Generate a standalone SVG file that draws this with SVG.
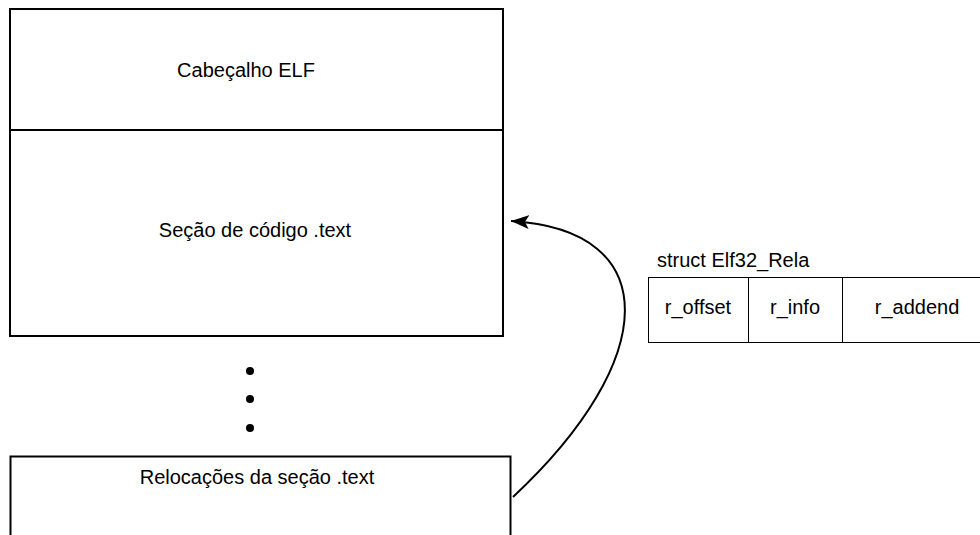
<svg xmlns="http://www.w3.org/2000/svg" width="980" height="535" viewBox="0 0 980 535">
<style>
text{font-family:"Liberation Sans",Arial,sans-serif;font-size:20px;fill:#000}
.box{fill:#fff;stroke:#000;stroke-width:2}
.thin{fill:#fff;stroke:#000;stroke-width:1}
.mid{text-anchor:middle}
</style>
<defs>
<marker id="ah" markerWidth="20" markerHeight="14" refX="18" refY="7" orient="auto" markerUnits="userSpaceOnUse">
<path d="M0,0 L18,7 L0,14 L4,7 Z" fill="#000"/>
</marker>
</defs>
<rect width="980" height="535" fill="#fff"/>
<g id="header">
<rect class="box" x="10" y="9" width="493" height="121"/>
<text class="mid" x="246" y="77">Cabeçalho ELF</text>
</g>
<g id="text-section">
<rect class="box" x="10" y="130" width="493" height="206"/>
<text class="mid" x="255" y="237">Seção de código .text</text>
</g>
<g id="dots">
<circle cx="250" cy="371" r="4"/>
<circle cx="250" cy="399" r="4"/>
<circle cx="250" cy="428" r="4"/>
</g>
<g id="relocations">
<rect class="box" x="10.5" y="456.5" width="500" height="100" stroke-width="1.5"/>
<text class="mid" x="257" y="484">Relocações da seção .text</text>
</g>
<g id="struct">
<text x="657" y="267">struct Elf32_Rela</text>
<rect class="thin" x="648.5" y="277.5" width="345" height="65"/>
<line x1="748.5" y1="277.5" x2="748.5" y2="342.5" stroke="#000"/>
<line x1="842.5" y1="277.5" x2="842.5" y2="342.5" stroke="#000"/>
<text class="mid" x="698" y="314">r_offset</text>
<text class="mid" x="795" y="314">r_info</text>
<text class="mid" x="917" y="314">r_addend</text>
</g>
<g id="connectors">
<path d="M513 497 C660 360 665 230 511 221" fill="none" stroke="#000" stroke-width="2" marker-end="url(#ah)"/>
</g>
</svg>
